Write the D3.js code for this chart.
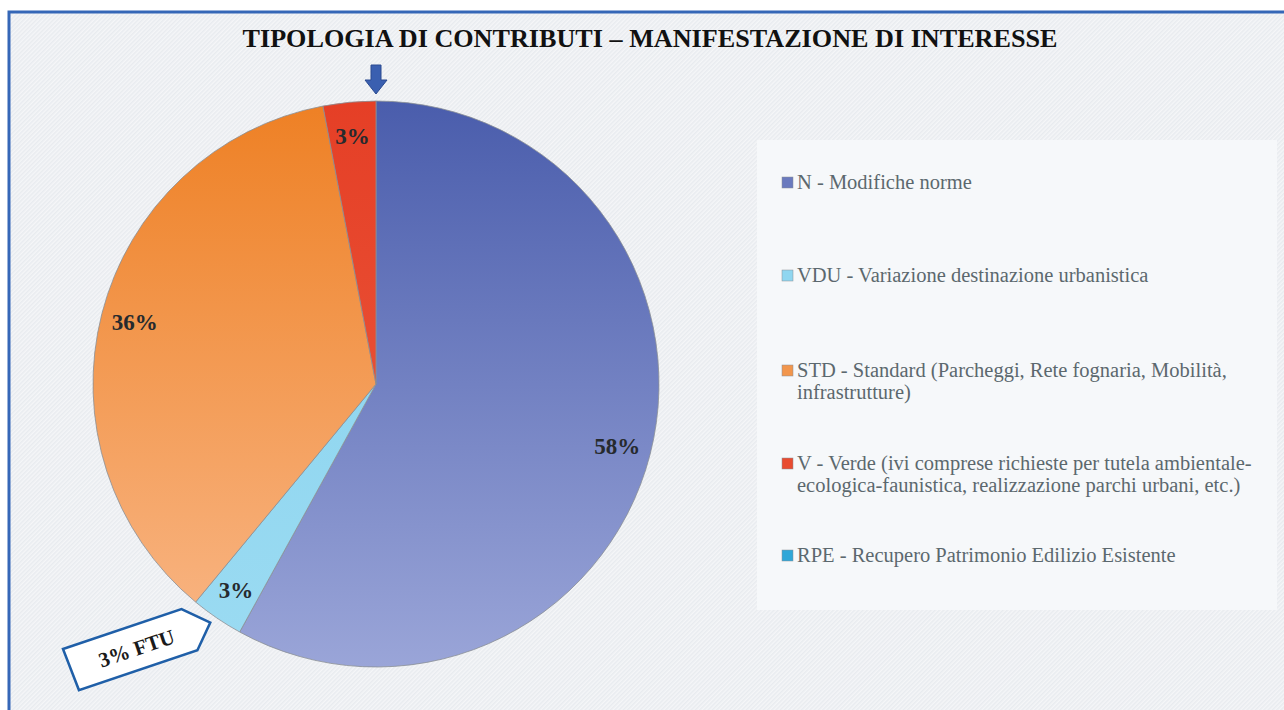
<head>
    <meta name="viewport" content="width=device-width, initial-scale=1">
    <style> body { margin: 0; background: #fff; } </style>
    <script src="https://d3js.org/d3.v7.min.js"></script>
</head>
<body>
<div id="chart"></div>
<script>

    var title = "TIPOLOGIA DI CONTRIBUTI \u2013 MANIFESTAZIONE DI INTERESSE";

    var codes = ["N", "VDU", "STD", "V", "RPE"];
    var values = [58, 3, 36, 3, 0];
    var legendLabels = [
        ["N - Modifiche norme"],
        ["VDU - Variazione destinazione urbanistica"],
        ["STD - Standard (Parcheggi, Rete fognaria, Mobilità,", "infrastrutture)"],
        ["V - Verde (ivi comprese richieste per tutela ambientale-", "ecologica-faunistica, realizzazione parchi urbani, etc.)"],
        ["RPE - Recupero Patrimonio Edilizio Esistente"]
    ];
    // gradient top / bottom colour for each slice
    var topColors = ["#4a5dac", "#87d2ee", "#ee8024", "#e53f26", "#2fa7d8"];
    var bottomColors = ["#9aa5d8", "#9bdbf2", "#f9b889", "#ec5d40", "#2fa7d8"];
    var calloutText = "3% FTU";

    var W = 1284, H = 710;
    var cx = 376, cy = 384, r = 283;
    var serif = "'Liberation Serif', 'DejaVu Serif', serif";

    var svg = d3.select("#chart").append("svg")
        .attr("width", W)
        .attr("height", H);

    var defs = svg.append("defs");

    // hatched background
    var pat = defs.append("pattern")
        .attr("id", "hatch")
        .attr("width", 3).attr("height", 3)
        .attr("patternUnits", "userSpaceOnUse")
        .attr("patternTransform", "rotate(45)");
    pat.append("rect").attr("width", 3).attr("height", 3).attr("fill", "#f5f6f8");
    pat.append("rect").attr("width", 1.5).attr("height", 3).attr("fill", "#e8ebef");

    svg.append("rect")
        .attr("x", 9).attr("y", 12)
        .attr("width", W + 20).attr("height", H + 20)
        .attr("fill", "url(#hatch)")
        .attr("stroke", "#3567b7")
        .attr("stroke-width", 3);

    codes.forEach(function(c, i) {
        var g = defs.append("linearGradient")
            .attr("id", "grad" + c)
            .attr("gradientUnits", "userSpaceOnUse")
            .attr("x1", 0).attr("x2", 0)
            .attr("y1", -r).attr("y2", r);
        g.append("stop").attr("offset", "0%").attr("stop-color", topColors[i]);
        g.append("stop").attr("offset", "100%").attr("stop-color", bottomColors[i]);
    });

    // title
    svg.append("text")
        .attr("x", 650).attr("y", 47)
        .attr("text-anchor", "middle")
        .attr("font-family", serif)
        .attr("font-weight", "bold")
        .attr("font-size", 26)
        .attr("textLength", 815)
        .attr("lengthAdjust", "spacingAndGlyphs")
        .attr("fill", "#111")
        .text(title);

    // pie
    var pie = d3.pie().sort(null).value(function(d) { return d; });
    var arcs = pie(values);
    var arc = d3.arc().innerRadius(0).outerRadius(r);
    var labelArc = d3.arc().innerRadius(r * 0.88).outerRadius(r * 0.88);

    var pg = svg.append("g").attr("transform", "translate(" + cx + "," + cy + ")");

    pg.selectAll("path.slice")
        .data(arcs.filter(function(d) { return d.value > 0; }))
        .enter()
        .append("path")
        .attr("class", "slice")
        .attr("d", arc)
        .attr("fill", function(d) { return "url(#grad" + codes[d.index] + ")"; })
        .attr("stroke", "#8a8f96")
        .attr("stroke-width", 0.8);

    pg.selectAll("text.pct")
        .data(arcs.filter(function(d) { return d.value > 0; }))
        .enter()
        .append("text")
        .attr("class", "pct")
        .attr("x", function(d) { return labelArc.centroid(d)[0]; })
        .attr("y", function(d) { return labelArc.centroid(d)[1]; })
        .attr("dy", "0.35em")
        .attr("text-anchor", "middle")
        .attr("font-family", serif)
        .attr("font-weight", "bold")
        .attr("font-size", 23)
        .attr("fill", "#262a2e")
        .text(function(d) { return d.value + "%"; });

    // arrow pointing at the V slice
    var ax = cx, ay = cy - r;
    svg.append("path")
        .attr("d", "M" + (ax - 5) + "," + (ay - 36) + "h10v15h6l-11,14l-11,-14h6z")
        .attr("fill", "#3a5fb0")
        .attr("stroke", "#2a4a90")
        .attr("stroke-width", 1);

    // callout for FTU
    var cg = svg.append("g").attr("transform", "translate(63,649) rotate(-18.6)");
    cg.append("path")
        .attr("d", "M0,0L125,0L148,22L127,44L2,44Z")
        .attr("fill", "#ffffff")
        .attr("stroke", "#1f5fa8")
        .attr("stroke-width", 2.5)
        .attr("stroke-linejoin", "miter");
    cg.append("text")
        .attr("x", 70).attr("y", 30)
        .attr("text-anchor", "middle")
        .attr("font-family", serif)
        .attr("font-weight", "bold")
        .attr("font-size", 21)
        .attr("fill", "#1a1a1a")
        .text(calloutText);

    // legend
    svg.append("rect")
        .attr("x", 757).attr("y", 140)
        .attr("width", 520).attr("height", 470)
        .attr("fill", "#f6f8fa");

    var rowY = [189, 282, 377, 470, 562];
    var lg = svg.append("g");

    codes.forEach(function(c, i) {
        lg.append("rect")
            .attr("x", 782).attr("y", rowY[i] - 12)
            .attr("width", 11).attr("height", 11)
            .attr("fill", d3.interpolateRgb(topColors[i], bottomColors[i])(0.4))
            .attr("stroke", "#8a8f96")
            .attr("stroke-width", 0.5);
        var t = lg.append("text")
            .attr("x", 797).attr("y", rowY[i])
            .attr("font-family", serif)
            .attr("font-weight", "normal")
            .attr("font-size", 20.5)
            .attr("fill", "#5c686e");
        legendLabels[i].forEach(function(line, j) {
            t.append("tspan")
                .attr("x", 797)
                .attr("dy", j == 0 ? 0 : 22)
                .text(line);
        });
    });

</script>
</body>
